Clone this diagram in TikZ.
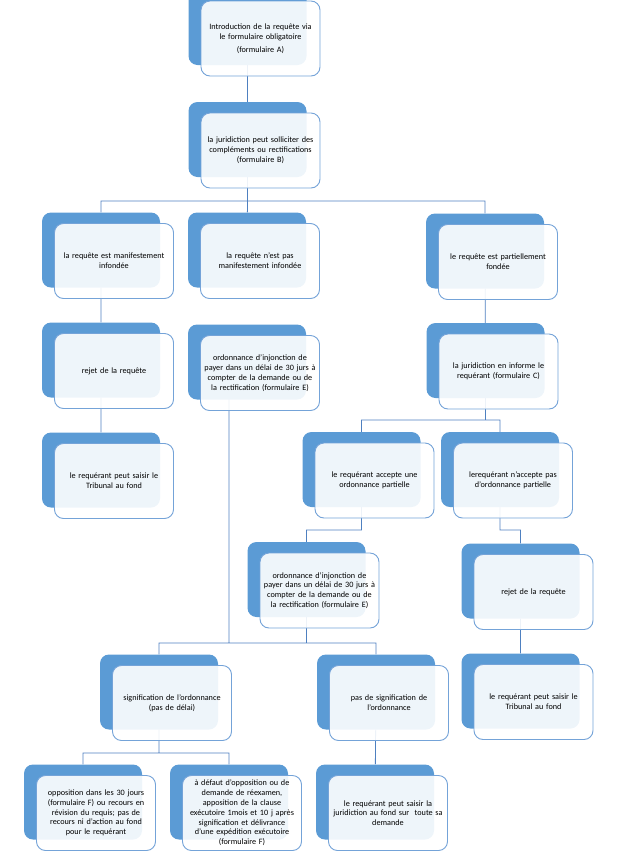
\documentclass[tikz,border=0pt]{standalone}
\usepackage{fontspec}
\setmainfont{Carlito}
\usepackage{tikz}
\usetikzlibrary{backgrounds}

\definecolor{boxblue}{RGB}{91,155,213}
\definecolor{edgeblue}{RGB}{116,163,216}
\definecolor{linkblue}{RGB}{78,128,192}

\begin{document}
\begin{tikzpicture}[x=1pt,y=-1pt,
    back/.style={fill=boxblue,rounded corners=9pt,minimum width=118pt,minimum height=75pt,inner sep=0pt},
    front/.style={draw=edgeblue,line width=0.9pt,fill=white,fill opacity=0.9,text opacity=1,
        rounded corners=9pt,minimum width=119pt,minimum height=75pt,inner sep=1pt,text width=116pt,
        align=center,font=\fontsize{8.2}{9.8}\selectfont,xshift=13pt,yshift=-11pt},
    link/.style={draw=linkblue,line width=0.8pt}]
        \useasboundingbox (0,0) rectangle (627,860);
        % first column of boxes
        \node[back] (b1) at (247.5,27.5) {};
        \node[front] (f1) at (b1) {Introduction de la requête via\\le formulaire obligatoire\\[3pt](formulaire A)};
        \node[back] (b2) at (247.5,139.5) {};
        \node[front] (f2) at (b2) {la juridiction peut solliciter des\\compléments ou rectifications\\(formulaire B)};
        % three cases
        \node[back] (b3) at (101,250) {};
        \node[front] (f3) at (b3) {la requête est manifestement\\infondée};
        \node[back] (b4) at (247,250) {};
        \node[front] (f4) at (b4) {la requête n'est pas\\manifestement infondée};
        \node[back] (b5) at (485,251) {};
        \node[front] (f5) at (b5) {le requête est partiellement\\fondée};
        \node[back] (b6) at (101,360) {};
        \node[front] (f6) at (b6) {rejet de la requête};
        \node[back] (b7) at (247,362) {};
        \node[front] (f7) at (b7) {ordonnance d'injonction de\\payer dans un délai de 30 jurs à\\compter de la demande ou de\\la rectification (formulaire E)};
        \node[back] (b8) at (485.5,360.5) {};
        \node[front] (f8) at (b8) {la juridiction en informe le\\requérant (formulaire C)};
        \node[back] (b9) at (101,470) {};
        \node[front] (f9) at (b9) {le requérant peut saisir le\\Tribunal au fond};
        % partial order
        \node[back] (b10) at (361.5,469.5) {};
        \node[front] (f10) at (b10) {le requérant accepte une\\ordonnance partielle};
        \node[back] (b11) at (500,469.5) {};
        \node[front] (f11) at (b11) {lerequérant n'accepte pas\\d'ordonnance partielle};
        \node[back] (b12) at (306.5,579.5) {};
        \node[front] (f12) at (b12) {ordonnance d'injonction de\\payer dans un délai de 30 jurs à\\compter de la demande ou de\\la rectification (formulaire E)};
        \node[back] (b13) at (520.5,581) {};
        \node[front] (f13) at (b13) {rejet de la requête};
        \node[back] (b14) at (159,692) {};
        \node[front] (f14) at (b14) {signification de l'ordonnance\\(pas de délai)};
        \node[back] (b15) at (376,692) {};
        \node[front] (f15) at (b15) {pas de signification de\\l'ordonnance};
        \node[back] (b16) at (520.5,691) {};
        \node[front] (f16) at (b16) {le requérant peut saisir le\\Tribunal au fond};
        % last row
        \node[back] (b17) at (83,802) {};
        \node[front] (f17) at (b17) {opposition dans les 30 jours\\(formulaire F) ou recours en\\révision du requis; pas de\\recours ni d'action au fond\\pour le requérant};
        \node[back] (b18) at (229,802) {};
        \node[front] (f18) at (b18) {à défaut d'opposition ou de\\demande de réexamen,\\apposition de la clause\\exécutoire 1mois et 10 j après\\signification et délivrance\\d'une expédition exécutoire\\(formulaire F)};
        \node[back] (b19) at (375,802) {};
        \node[front] (f19) at (b19) {le requérant peut saisir la\\juridiction au fond sur~ toute sa\\demande};
        % bus lines
        \coordinate (bus1) at (0,201);
        \coordinate (bus2) at (0,420);
        \coordinate (bus3) at (0,530);
        \coordinate (bus4) at (0,643);
        \coordinate (bus5) at (0,753);
        \begin{scope}[on background layer]
          \path[link]
            (b1) -- (b2)
            (b2) |- (bus1 -| b3) -- (b3)
            (b2 |- bus1) -| (b5)
            (b2 |- bus1) -- (b4)
            (b3) -- (b6) -- (b9)
            (b5) -- (b8)
            (b8) |- (bus2 -| b10) -- (b10)
            (b8 |- bus2) -| (b11)
            (b10) |- (bus3 -| b12) -- (b12)
            (b11) |- (bus3 -| b13) -- (b13)
            (b13) -- (b16)
            ([xshift=-18pt]b7.center) -- ([xshift=-18pt]b7.center |- bus4)
            (b12) -- (b12 |- bus4)
            (b14) |- (bus4 -| b15) -- (b15)
            (b14) |- (bus5 -| b17) -- (b17)
            (b14 |- bus5) -| (b18)
            (b15) -- (b19);
        \end{scope}
\end{tikzpicture}
\end{document}
